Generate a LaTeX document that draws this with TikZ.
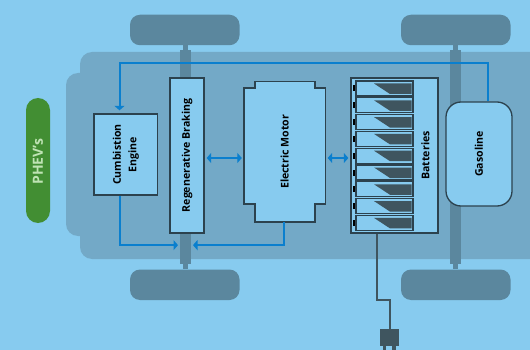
\documentclass[tikz,border=0pt]{standalone}
\usepackage{fontspec}
\setmainfont{Open Sans}
\usepackage{tikz}
\usetikzlibrary{arrows.meta,calc,positioning}
\definecolor{skyback}{HTML}{87CBEF}
\definecolor{bodyblue}{HTML}{73A9C7}
\definecolor{wheelblue}{HTML}{5B879E}
\definecolor{darkslate}{HTML}{3F555F}
\definecolor{edgeslate}{HTML}{2C424E}
\definecolor{flowblue}{HTML}{0A7FCE}
\definecolor{pillgreen}{HTML}{428E33}
\definecolor{pilltext}{HTML}{BFE3B4}

\begin{document}
\begin{tikzpicture}[x=1pt, y=-1pt]
    % Define styles
    \tikzstyle{wheel} = [rectangle, fill=wheelblue, rounded corners=10pt, minimum width=109.5pt, minimum height=30.5pt, inner sep=0pt]
    \tikzstyle{unit} = [rectangle, draw=edgeslate, line width=1.3pt, fill=skyback, inner sep=0pt, align=center, font=\bfseries\fontsize{10.6}{15.5}\selectfont, rotate=90]
    \tikzstyle{cellbox} = [rectangle, draw=edgeslate, line width=1.2pt, fill=skyback, minimum width=57pt, minimum height=15pt, inner sep=0pt]
    \tikzstyle{flow} = [draw=flowblue, line width=2pt, -{Triangle[length=4.5pt,width=10pt]}]
    \tikzstyle{flowboth} = [draw=flowblue, line width=2pt, {Triangle[length=4.5pt,width=10pt]}-{Triangle[length=4.5pt,width=10pt]}]

    % Background and car body
    \fill[skyback] (0,0) rectangle (530,350);
    \useasboundingbox (0,0) rectangle (530,350);
    \fill[bodyblue, rounded corners=12pt] (80,52) rectangle (560,259);
    \fill[bodyblue, rounded corners=12pt] (66,73) rectangle (140,236);

    % Wheels and axles
    \fill[wheelblue] (180,50) rectangle (190.5,264);
    \fill[wheelblue] (183,45) rectangle (187.5,269);
    \fill[wheelblue] (450,50) rectangle (461,264);
    \fill[wheelblue] (453,45) rectangle (458,269);
    \node[wheel] (wheelA) at (184.75,30) {};
    \node[wheel] (wheelB) at (455.75,30) {};
    \node[wheel] (wheelC) at (184.75,284.75) {};
    \node[wheel] (wheelD) at (455.75,284.75) {};

    % Units
    \node[rounded corners=12pt, fill=pillgreen, minimum width=125pt, minimum height=24pt, inner sep=0pt, rotate=90] (phev) at (38,160.5) {};
    \node[text=pilltext, inner sep=0pt, rotate=90, font=\bfseries\fontsize{14}{16}\selectfont] (phevlabel) at (38,161.5) {PHEV's};
    \node[unit, minimum width=81pt, minimum height=63.5pt] (engine) at (125.75,154.5) {Cumbistion\\Engine};
    \node[unit, minimum width=155pt, minimum height=34pt] (braking) at (187,155.5) {Regenerative Braking};
    \node[unit, rounded corners=15pt, minimum width=104pt, minimum height=66pt] (gasoline) at (479,154) {Gasoline};
    \node[unit, minimum width=155pt, minimum height=87pt] (batteries) at (394.5,155.5) {};
    \node[font=\bfseries\fontsize{10.6}{12}\selectfont, rotate=90, inner sep=0pt] (batterylabel) at (425.5,155.5) {Batteries};

    % Motor outline
    \draw[edgeslate, line width=1.3pt, fill=skyback] (244,88) -- (255,88) -- (255,81.5) -- (315,81.5) -- (315,88) -- (325.5,88) -- (325.5,204) -- (315,204) -- (315,222) -- (255,222) -- (255,204) -- (244,204) -- cycle;
    \node[font=\bfseries\fontsize{10.6}{12}\selectfont, rotate=90, inner sep=0pt, minimum width=140.5pt, minimum height=81.5pt] (motor) at (284.75,151.75) {Electric Motor};

    % Battery cells
    \foreach \i in {0,...,8} {
        \node[cellbox] (cell\i) at (384.5,{88.5+16.8*\i}) {};
        \fill[black] ($(cell\i.west)+(-2.5,-3)$) rectangle ($(cell\i.west)+(0,3)$);
        \fill[darkslate] ($(cell\i.center)+(-10.5,-5)$) -- ($(cell\i.center)+(27,-5)$) -- ($(cell\i.center)+(27,5.5)$) -- ($(cell\i.center)+(5.5,5.5)$) -- cycle;
    }

    % Flows
    \coordinate (linkA) at (0,158);
    \coordinate (motorbottom) at (284,222);
    \draw[flow] ($(gasoline.east)+(8.5,0)$) |- (119.5,63) -- ($(engine.east)+(-6.25,-3)$);
    \draw[flow] ($(engine.west)+(-6.25,0)$) |- ($(braking.west)+(-9,11.5)$);
    \draw[flow] (motorbottom) |- ($(braking.west)+(6,11.5)$);
    \draw[flowboth] ($(braking.south |- linkA)+(2,0)$) -- ($(motor.north |- linkA)+(-2,0)$);
    \draw[flowboth] ($(motor.south |- linkA)+(2,0)$) -- ($(batteries.north |- linkA)+(-2,0)$);

    % Cable and plug
    \node[rectangle, fill=darkslate, minimum width=18.5pt, minimum height=17pt, inner sep=0pt] (plug) at (389.25,337.5) {};
    \fill[darkslate] ($(plug.south)+(-6.5,0)$) rectangle ++(3.5,5);
    \fill[darkslate] ($(plug.south)+(3,0)$) rectangle ++(3.5,5);
    \draw[darkslate, line width=2pt] ($(batteries.west)+(-17.5,0)$) -- ++(0,66) -- ++(13,0) -- (plug.north -| 390,0);
\end{tikzpicture}
\end{document}
